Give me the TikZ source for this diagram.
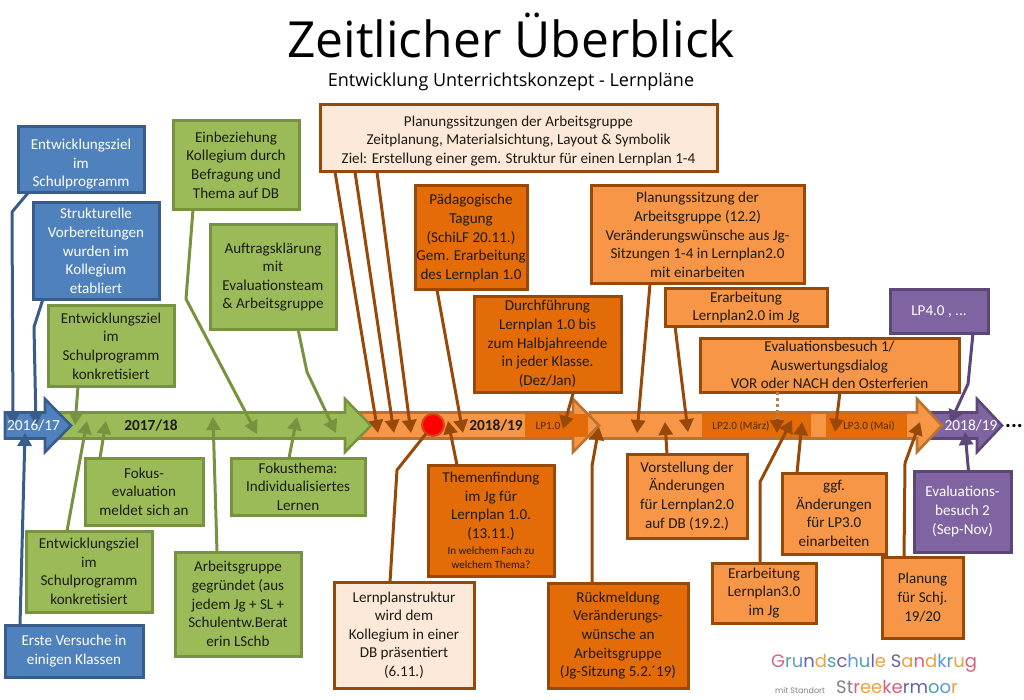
\documentclass[tikz,border=0pt]{standalone}
\usepackage{fontspec}
\setmainfont{Carlito}
\newfontfamily\titlefont{Open Sans}
\newfontfamily\logofont{Poppins}
\usetikzlibrary{arrows.meta}
\definecolor{cBlue}{HTML}{4F81BD}\definecolor{cBlueD}{HTML}{385D8A}
\definecolor{cGreen}{HTML}{9BBB59}\definecolor{cGreenD}{HTML}{78933F}
\definecolor{cOrange}{HTML}{F79646}\definecolor{cBrown}{HTML}{984807}
\definecolor{cBandEdge}{HTML}{B9722F}
\definecolor{cDark}{HTML}{E36C09}\definecolor{cPeach}{HTML}{FDE9D9}
\definecolor{cPurple}{HTML}{8064A2}\definecolor{cPurpleD}{HTML}{5C4776}
\definecolor{cInk}{HTML}{1C1C14}
\definecolor{lgA}{HTML}{D9607F}\definecolor{lgB}{HTML}{4FA3A5}\definecolor{lgC}{HTML}{E8A33D}
\definecolor{lgD}{HTML}{6A5FA8}\definecolor{lgE}{HTML}{5C9BD1}\definecolor{lgF}{HTML}{7F7F7F}
\newcommand\bandarrow[5]{\draw[fill=#1,draw=#2,line width=2.6pt,line join=miter]
 (#3,412.5)--(#4,412.5)--(#4,399)--(#5,425.5)--(#4,452)--(#4,438.5)--(#3,438.5)--cycle;}
\tikzset{
 boxbase/.style={rectangle,draw,line width=3pt,outer sep=0pt,inner sep=1pt,align=center,
   font=\fontsize{15.1}{18.6}\selectfont,text=cInk},
 bluebox/.style={boxbase,fill=cBlue,draw=cBlueD,text=white},
 greenbox/.style={boxbase,fill=cGreen,draw=cGreenD},
 orangebox/.style={boxbase,fill=cOrange,draw=cBrown},
 darkbox/.style={boxbase,fill=cDark,draw=cBrown},
 peachbox/.style={boxbase,fill=cPeach,draw=cBrown},
 purplebox/.style={boxbase,fill=cPurple,draw=cPurpleD,text=white},
 conn/.style={line width=3pt,line join=round,-{Triangle[width=14pt,length=13pt]}},
 blueconn/.style={conn,draw=cBlueD},
 greenconn/.style={conn,draw=cGreenD},
 brownconn/.style={conn,draw=cBrown},
 purpleconn/.style={conn,draw=cPurpleD},
 bandlabel/.style={inner sep=0pt,font=\fontsize{15.4}{16}\selectfont\bfseries},
 lplabel/.style={inner sep=0pt,font=\fontsize{11.2}{12}\selectfont,text=cBrown!55!black},
}
\begin{document}
\begin{tikzpicture}[x=1pt,y=-1pt]
\useasboundingbox (0,0) rectangle (1024,700);
% title
\node[inner sep=0pt,font=\titlefont\fontsize{49.8}{52}\selectfont] (title) at (511,36) {Zeitlicher Überblick};
\node[inner sep=0pt,font=\titlefont\fontsize{18}{20}\selectfont] (subtitle) at (511,82) {Entwicklung Unterrichtskonzept - Lernpläne};
% timeline band
\bandarrow{cPurple}{cPurpleD}{930}{977}{1002}
\bandarrow{cOrange}{cBandEdge}{590}{917}{942}
\fill[cDark] (702,414) rectangle (811,437);
\fill[cDark] (826,414) rectangle (907,437);
\bandarrow{cOrange}{cBandEdge}{360}{573}{599}
\fill[cDark] (525,414) rectangle (588,437);
\bandarrow{cGreen}{cGreenD}{60}{345}{371}
\bandarrow{cBlue}{cBlueD}{5}{45}{71}
\node[circle,fill=red,draw=cBandEdge!60!red,line width=2pt,minimum size=22,inner sep=0pt,outer sep=0pt] (dot) at (433,425) {};
% boxes above
\node[bluebox,minimum width=126,minimum height=66] (b1) at (81,160) {\rule{0pt}{19pt}Entwicklungsziel\\im\\Schulprogramm};
\node[bluebox,minimum width=126,minimum height=96] (b2) at (96,251) {Strukturelle\\Vorbereitungen\\wurden im\\Kollegium\\etabliert};
\node[greenbox,minimum width=126,minimum height=81] (g1) at (111,346) {Entwicklungsziel\\im\\Schulprogramm\\konkretisiert};
\node[greenbox,minimum width=126,minimum height=89] (g2) at (236,165) {Einbeziehung\\Kollegium durch\\Befragung und\\Thema auf DB};
\node[greenbox,minimum width=126,minimum height=104] (g3) at (273,277) {Auftragsklärung\\mit\\Evaluationsteam\\\& Arbeitsgruppe};
\node[peachbox,minimum width=397,minimum height=67] (p1) at (518.5,138.5) {\rule{0pt}{15pt}Planungssitzungen der Arbeitsgruppe\\Zeitplanung, Materialsichtung, Layout \& Symbolik\\Ziel: Erstellung einer gem. Struktur für einen Lernplan 1-4};
\node[darkbox,minimum width=112,minimum height=104] (d1) at (471,238) {Pädagogische\\Tagung\\(SchiLF 20.11.)\\Gem. Erarbeitung\\des Lernplan 1.0};
\node[darkbox,minimum width=147,minimum height=96] (d2) at (547.5,344) {Durchführung\\Lernplan 1.0 bis\\zum Halbjahreende\\in jeder Klasse.\\(Dez/Jan)};
\node[orangebox,minimum width=213,minimum height=98] (o1) at (697.5,235) {Planungssitzung der\\Arbeitsgruppe (12.2)\\Veränderungswünsche aus Jg-\\Sitzungen 1-4 in Lernplan2.0\\mit einarbeiten};
\node[orangebox,minimum width=162,minimum height=37] (o2) at (746,307.5) {Erarbeitung\\Lernplan2.0 im Jg};
\node[orangebox,minimum width=259,minimum height=54] (o3) at (829.5,365) {Evaluationsbesuch 1/\\Auswertungsdialog\\VOR oder NACH den Osterferien};
\node[purplebox,minimum width=98,minimum height=43] (v1) at (939,311.5) {LP4.0 , ...};
% boxes below
\node[greenbox,minimum width=118,minimum height=67] (g4) at (144,491.5) {Fokus-\\evaluation\\meldet sich an};
\node[greenbox,minimum width=134,minimum height=57] (g5) at (298,486.5) {Fokusthema:\\Individualisiertes\\Lernen};
\node[greenbox,minimum width=126,minimum height=81] (g6) at (89,571.5) {Entwicklungsziel\\im\\Schulprogramm\\konkretisiert};
\node[greenbox,minimum width=126,minimum height=104] (g7) at (238,604) {Arbeitsgruppe\\gegründet (aus\\jedem Jg + SL +\\Schulentw.Berat\\erin LSchb};
\node[bluebox,minimum width=138,minimum height=52] (b3) at (74,651) {Erste Versuche in\\einigen Klassen};
\node[peachbox,minimum width=140,minimum height=106] (p2) at (404,635) {Lernplanstruktur\\wird dem\\Kollegium in einer\\DB präsentiert\\(6.11.)};
\node[darkbox,minimum width=126,minimum height=111] (d3) at (491,520.5) {Themenfindung\\im Jg für\\Lernplan 1.0.\\(13.11.)\\[-3pt]{\fontsize{11}{14}\selectfont In welchem Fach zu}\\[-4pt]{\fontsize{11}{14}\selectfont welchem Thema?}};
\node[darkbox,minimum width=140,minimum height=105] (d4) at (618,635.5) {Rückmeldung\\Veränderungs-\\wünsche an\\Arbeitsgruppe\\(Jg-Sitzung 5.2.´19)};
\node[orangebox,minimum width=120,minimum height=84] (o4) at (687,496) {Vorstellung der\\Änderungen\\für Lernplan2.0\\auf DB (19.2.)};
\node[orangebox,minimum width=104,minimum height=81] (o5) at (834,513.5) {ggf.\\Änderungen\\für LP3.0\\einarbeiten};
\node[orangebox,minimum width=104,minimum height=60] (o6) at (764,593) {Erarbeitung\\Lernplan3.0\\im Jg};
\node[orangebox,minimum width=81,minimum height=81] (o7) at (922.5,597.5) {Planung\\für Schj.\\19/20};
\node[purplebox,minimum width=97,minimum height=81] (v2) at (962.5,511.5) {Evaluations-\\besuch 2\\(Sep-Nov)};
% free ends on the band
\foreach \n/\x/\y in {t1/13/425,t2/36/425,t3/25/433,t4/75/425,t5/87/421,t6/106/421,t7/213/417,t8/257/434,
 t9/297/417,t10/336/433,t11/378/433,t12/394/433,t13/411/433,t14/463/433,t15/448/421,t16/563/429,t17/599/427,
 t18/637/433,t19/665/422,t20/688/432,t21/777/433,t21a/777/419,t22/792/420,t23/802/422,t24/835/432,t25/920/422,t26/950/423,t27/965/432}
 \coordinate (\n) at (\x,\y);
% connectors
\draw[blueconn] ([xshift=10pt]b1.south west) -- (12,212) -- (t1);
\draw[blueconn] ([xshift=10pt]b2.south west) -- (34,327) -- (t2);
\draw[blueconn] ([xshift=15pt]b3.north west) -- (t3);
\draw[greenconn] ([xshift=30pt]g1.south west) -- (t4);
\draw[greenconn] ([xshift=41pt]g6.north west) -- (t5);
\draw[greenconn] ([xshift=15pt]g4.north west) -- (t6);
\draw[greenconn] ([xshift=-21pt]g7.north) -- (t7);
\draw[greenconn] ([xshift=20pt]g2.south west) -- (186,299) -- (t8);
\draw[greenconn] ([xshift=-9pt]g5.north) -- (t9);
\draw[greenconn] ([xshift=88pt]g3.south west) -- (307,372) -- (t10);
\draw[brownconn] ([xshift=15pt]p1.south west) -- (t11);
\draw[brownconn] ([xshift=35pt]p1.south west) -- (t12);
\draw[brownconn] ([xshift=57pt]p1.south west) -- (t13);
\draw[brownconn] ([xshift=22pt]d1.south west) -- (t14);
\draw[brownconn] ([xshift=-34pt]d3.north) -- (t15);
\draw[brownconn] ([xshift=26pt]d2.south) -- (t16);
\draw[line width=3pt,draw=cBrown,line join=round] ([xshift=-14pt]p2.north) -- (397,470) -- (dot);
\draw[brownconn] ([xshift=-26pt]d4.north) -- (592,466) -- (t17);
\draw[brownconn] ([xshift=59pt]o1.south west) -- (t18);
\draw[brownconn] ([xshift=-20pt]o4.north) -- (t19);
\draw[brownconn] ([xshift=10pt]o2.south west) -- (t20);
\draw[line width=3pt,draw=cBrown!70,dash pattern=on 3pt off 3pt] ([xshift=77pt]o3.south west) -- (t21a);
\draw[brownconn] (t21a) -- (t21);
\draw[brownconn] ([xshift=140pt]o3.south west) -- (t24);
\draw[brownconn] ([xshift=-4pt]o6.north) -- (760,482) -- (t22);
\draw[brownconn] ([xshift=-37pt]o5.north) -- (t23);
\draw[brownconn] ([xshift=22pt]o7.north west) -- (905,463) -- (t25);
\draw[purpleconn] ([xshift=34pt]v1.south) -- (968,384) -- (t26);
\draw[purpleconn] ([xshift=6pt]v2.north) -- (t27);
% band labels on top
\node[bandlabel,text=white,font=\fontsize{15.4}{16}\selectfont] (l1617) at (33.5,425) {2016/17};
\node[bandlabel,text=cInk] (l1718) at (151,425) {2017/18};
\node[bandlabel,text=cInk] (l1819) at (496,425) {2018/19};
\node[lplabel] (lp1) at (548,426) {LP1.0};
\node[lplabel] (lp2) at (741,426) {LP2.0 (März)};
\node[lplabel] (lp3) at (869,426) {LP3.0 (Mai)};
\node[bandlabel,text=white,font=\fontsize{15.4}{16}\selectfont] (l1819b) at (971,425) {2018/19};
\node[inner sep=0pt,font=\fontsize{22}{22}\selectfont\bfseries] (more) at (1014,426) {...};
% logo
\node[inner sep=0pt,anchor=west,font=\logofont\fontsize{18}{20}\selectfont] (logo1) at (771,663) {\textcolor{lgA}{G}\textcolor{lgB}{r}\textcolor{lgE}{u}\textcolor{lgD}{n}\textcolor{lgC}{d}\textcolor{lgB}{s}\textcolor{lgD}{c}\textcolor{lgE}{h}\textcolor{lgB}{u}\textcolor{lgD}{l}\textcolor{lgC}{e} \textcolor{lgD}{S}\textcolor{lgC}{a}\textcolor{lgA}{n}\textcolor{lgC}{d}\textcolor{lgE}{k}\textcolor{lgB}{r}\textcolor{lgC}{u}\textcolor{lgA}{g}};
\node[inner sep=0pt,anchor=west,font=\logofont\fontsize{8}{9}\selectfont,text=lgF] (logo2) at (775,690) {mit Standort};
\node[inner sep=0pt,anchor=west,font=\logofont\fontsize{18}{18}\selectfont] (logo3) at (836,687) {\textcolor{lgF}{St}\textcolor{lgA}{r}\textcolor{lgC}{e}\textcolor{lgC}{e}\textcolor{lgA}{k}\textcolor{lgA}{e}\textcolor{lgD}{r}\textcolor{lgD}{m}\textcolor{lgB}{o}\textcolor{lgE}{o}\textcolor{lgC}{r}};
\end{tikzpicture}
\end{document}
